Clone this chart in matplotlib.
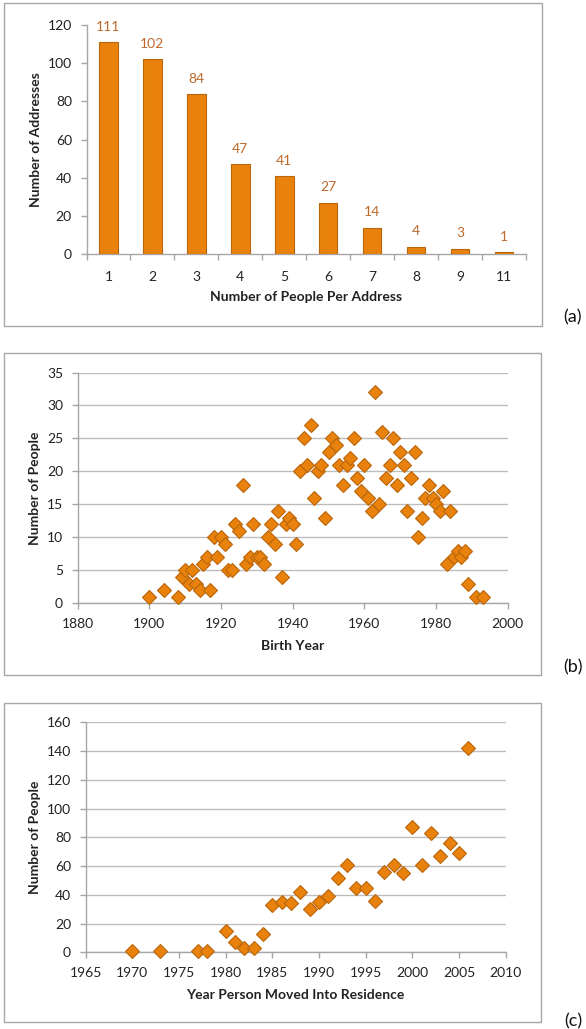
import matplotlib
matplotlib.use("Agg")
import matplotlib.pyplot as plt
from matplotlib.patches import Rectangle
import numpy as np

plt.rcParams['font.family'] = ['Lato', 'DejaVu Sans']

# ---- Data ----
people_per_address = ["1", "2", "3", "4", "5", "6", "7", "8", "9", "11"]
num_addresses = [111, 102, 84, 47, 41, 27, 14, 4, 3, 1]

birth_year = [1900, 1904, 1908, 1909, 1910, 1911, 1912, 1913, 1914, 1915, 1916, 1917,
              1918, 1919, 1920, 1921, 1922, 1923, 1924, 1925, 1926, 1927, 1928, 1929,
              1930, 1931, 1932, 1933, 1934, 1935, 1936, 1937, 1938, 1939, 1940, 1941,
              1942, 1943, 1944, 1945, 1946, 1947, 1948, 1949, 1950, 1951, 1952, 1953,
              1954, 1955, 1956, 1957, 1958, 1959, 1960, 1961, 1962, 1963, 1964, 1965,
              1966, 1967, 1968, 1969, 1970, 1971, 1972, 1973, 1974, 1975, 1976, 1977,
              1978, 1979, 1980, 1981, 1982, 1983, 1984, 1985, 1986, 1987, 1988, 1989,
              1991, 1993]
people_by_birth = [1, 2, 1, 4, 5, 3, 5, 3, 2, 6, 7, 2,
                   10, 7, 10, 9, 5, 5, 12, 11, 18, 6, 7, 12,
                   7, 7, 6, 10, 12, 9, 14, 4, 12, 13, 12, 9,
                   20, 25, 21, 27, 16, 20, 21, 13, 23, 25, 24, 21,
                   18, 21, 22, 25, 19, 17, 21, 16, 14, 32, 15, 26,
                   19, 21, 25, 18, 23, 21, 14, 19, 23, 10, 13, 16,
                   18, 16, 15, 14, 17, 6, 14, 7, 8, 7, 8, 3,
                   1, 1]

move_year = [1970, 1973, 1977, 1978, 1980, 1981, 1982, 1983, 1984, 1985, 1986, 1987,
             1988, 1989, 1990, 1991, 1992, 1993, 1994, 1995, 1996, 1997, 1998, 1999,
             2000, 2001, 2002, 2003, 2004, 2005, 2006]
people_by_move = [1, 1, 1, 1, 15, 7, 3, 3, 13, 33, 35, 34,
                  42, 30, 35, 39, 52, 61, 45, 45, 36, 56, 61, 55,
                  87, 61, 83, 67, 76, 69, 142]

# ---- Styles ----
W, H = 586, 1029
ORANGE = '#E8820C'
ORANGE_EDGE = '#B9650B'
LABEL_ORANGE = '#BE6A2C'
AXIS_GRAY = '#A6A6A6'
GRID_GRAY = '#BDBDBD'
TEXT = '#222222'

fig = plt.figure(figsize=(W / 100, H / 100), dpi=100)


def ax_at(left, right, top, bottom):
    return fig.add_axes([left / W, (H - bottom) / H, (right - left) / W, (bottom - top) / H])


def frame(x0, y0, x1, y1):
    fig.patches.append(Rectangle((x0 / W, (H - y1) / H), (x1 - x0) / W, (y1 - y0) / H,
                                 transform=fig.transFigure, fill=False,
                                 edgecolor=AXIS_GRAY, linewidth=1.0))


def style_axes(ax, grid):
    for s in ['top', 'right']:
        ax.spines[s].set_visible(False)
    for s in ['left', 'bottom']:
        ax.spines[s].set_color(AXIS_GRAY)
        ax.spines[s].set_linewidth(1.0)
    ax.tick_params(axis='both', colors=AXIS_GRAY, labelcolor=TEXT, labelsize=10,
                   length=4, width=1.0, direction='out', pad=6.5)
    if grid:
        ax.yaxis.grid(True, color=GRID_GRAY, linewidth=1.0)
        ax.set_axisbelow(True)


# Panel frames
frame(4, 3, 542, 326)
frame(4, 353, 541, 675)
frame(4, 703, 541, 1022)

# ---- (a) bar chart ----
axa = ax_at(86.5, 526, 25, 254.3)
x = np.arange(len(people_per_address))
bars = axa.bar(x, num_addresses, width=0.42, color=ORANGE, edgecolor=ORANGE_EDGE,
               linewidth=0.8, zorder=3)
for xi, v in zip(x, num_addresses):
    axa.annotate(str(v), (xi, v), xytext=(0, 11), textcoords='offset points',
                 ha='center', va='center', color=LABEL_ORANGE, fontsize=10)
axa.set_xlim(-0.5, len(x) - 0.5)
axa.set_ylim(0, 120)
axa.set_yticks(range(0, 121, 20))
axa.set_xticks(x)
axa.set_xticklabels(people_per_address)
axa.set_xticks(np.arange(-0.5, len(x), 1.0), minor=True)
style_axes(axa, grid=False)
axa.tick_params(axis='x', which='major', length=0, pad=12)
axa.tick_params(axis='x', which='minor', length=4, width=1.0, colors=AXIS_GRAY)
axa.set_xlabel('Number of People Per Address', fontsize=10, fontweight='bold', color=TEXT)
axa.set_ylabel('Number of Addresses', fontsize=10, fontweight='bold', color=TEXT)
axa.xaxis.set_label_coords(0.5, -0.1875)
axa.xaxis.label.set_va('center')
axa.yaxis.set_label_coords(-0.114, 0.5)
axa.yaxis.label.set_va('center')

# ---- (b) scatter birth year ----
axb = ax_at(77.7, 507.8, 372.5, 603.3)
axb.plot(birth_year, people_by_birth, linestyle='none', marker='D', markersize=6.8,
         markerfacecolor=ORANGE, markeredgecolor=ORANGE_EDGE, markeredgewidth=0.8,
         zorder=3, clip_on=False)
axb.set_xlim(1880, 2000)
axb.set_ylim(0, 35)
axb.set_xticks(range(1880, 2001, 20))
axb.set_yticks(range(0, 36, 5))
style_axes(axb, grid=True)
axb.set_xlabel('Birth Year', fontsize=10, fontweight='bold', color=TEXT)
axb.set_ylabel('Number of People', fontsize=10, fontweight='bold', color=TEXT)
axb.xaxis.set_label_coords(0.5, -0.185)
axb.xaxis.label.set_va('center')
axb.yaxis.set_label_coords(-0.099, 0.5)
axb.yaxis.label.set_va('center')

# ---- (c) scatter move year ----
axc = ax_at(85.7, 505.6, 722.3, 952.3)
axc.plot(move_year, people_by_move, linestyle='none', marker='D', markersize=6.8,
         markerfacecolor=ORANGE, markeredgecolor=ORANGE_EDGE, markeredgewidth=0.8,
         zorder=3, clip_on=False)
axc.set_xlim(1965, 2010)
axc.set_ylim(0, 160)
axc.set_xticks(range(1965, 2011, 5))
axc.set_yticks(range(0, 161, 20))
style_axes(axc, grid=True)
axc.set_xlabel('Year Person Moved Into Residence', fontsize=10, fontweight='bold', color=TEXT)
axc.set_ylabel('Number of People', fontsize=10, fontweight='bold', color=TEXT)
axc.xaxis.set_label_coords(0.5, -0.186)
axc.xaxis.label.set_va('center')
axc.yaxis.set_label_coords(-0.121, 0.5)
axc.yaxis.label.set_va('center')

# Panel letters
for lab, yy in [('(a)', 317), ('(b)', 667), ('(c)', 1021)]:
    fig.text(573 / W, (H - yy) / H, lab, ha='center', va='center', fontsize=13, color='#111111')

fig.savefig('out.png', dpi=100)
